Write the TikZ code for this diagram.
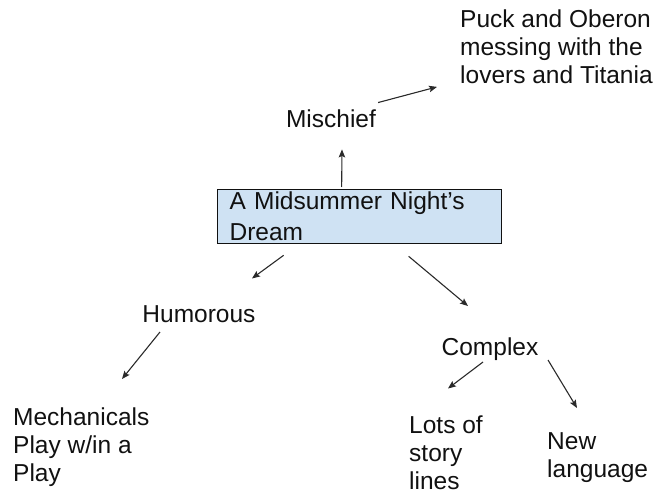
\documentclass[tikz,border=0pt]{standalone}
\usepackage{fontspec}
\setmainfont{Liberation Sans}
\usetikzlibrary{arrows.meta,calc}
\definecolor{boxfill}{HTML}{CFE2F3}
\definecolor{inkcol}{HTML}{111111}
\definecolor{arrcol}{HTML}{2A2A2A}
\tikzset{
  lbl/.style={inner sep=0pt, text=inkcol, font=\fontsize{24.5}{28}\selectfont, align=left},
  mainbox/.style={draw=inkcol, fill=boxfill, line width=1.3pt, anchor=north west,
    text width=260pt, inner xsep=12pt, inner ysep=0pt, minimum height=54pt, align=left,
    text=inkcol, font=\fontsize{24.5}{31}\selectfont},
  arr/.style={draw=arrcol, line width=1.1pt, -{Stealth[length=8pt,width=6.5pt,inset=1.5pt]}}
}
\begin{document}
\begin{tikzpicture}[x=1pt,y=-1pt]
\useasboundingbox (0,0) rectangle (657,495);
\node[mainbox] (dream) at (217,189) {A Midsummer Night's\\Dream};
\node[lbl, anchor=base] (misch) at (331,128) {Mischief};
\node[lbl, anchor=north west] (puck) at (460,9.5) {Puck and Oberon\\messing with the\\lovers and Titania};
\node[lbl, anchor=base] (hum) at (199,322) {Humorous};
\node[lbl, anchor=north west] (mech) at (13,407.5) {Mechanicals\\Play w/in a\\Play};
\node[lbl, anchor=base] (comp) at (490,355) {Complex};
\node[lbl, anchor=north west] (lots) at (409,415.5) {Lots of\\story\\lines};
\node[lbl, anchor=north west] (new) at (547,432.5) {New\\language};

\draw[arr] ($(dream.north)+(-18,-2)$) -- ($(misch.south)+(11,21)$);
\draw[arr] ($(misch.north east)+(2,-7.5)$) -- ($(puck.south west)+(-23,3)$);
\draw[arr] ($(dream.south)+(-76,11)$) -- ($(hum.north)+(53,-26.5)$);
\draw[arr] ($(hum.base)+(-39,10)$) -- ($(mech.north west)+(109,-28.5)$);
\draw[arr] ($(dream.south)+(49,12)$) -- ($(comp.north)+(-22,-31)$);
\draw[arr] ($(comp.base)+(-7,7)$) -- ($(lots.north west)+(39,-27)$);
\draw[arr] ($(comp.base)+(58,5)$) -- ($(new.north west)+(30,-24.5)$);
\end{tikzpicture}
\end{document}
